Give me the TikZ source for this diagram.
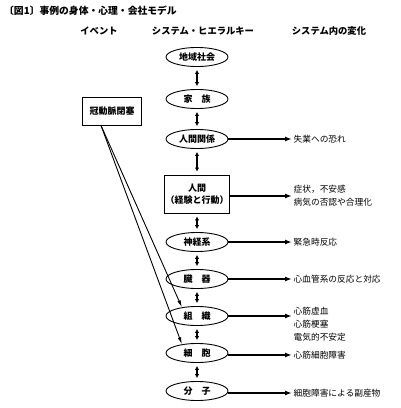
\documentclass[tikz,border=0pt]{standalone}
\usepackage{fontspec}
\setmainfont{Noto Sans CJK JP}
\usetikzlibrary{arrows.meta,positioning,shapes}

\begin{document}
\begin{tikzpicture}[x=1pt,y=-1pt,
  lvl/.style={ellipse,draw,line width=0.9pt,minimum width=62pt,minimum height=19pt,inner sep=0pt,font=\bfseries\fontsize{9}{10}\selectfont},
  sbox/.style={rectangle,draw,line width=0.9pt,minimum width=63pt,minimum height=38pt,inner sep=1pt,align=center,font=\bfseries\fontsize{9}{12}\selectfont},
  chg/.style={anchor=west,inner sep=1.5pt,align=left,font=\fontsize{8.7}{13}\selectfont},
  head/.style={font=\bfseries\fontsize{9.3}{10}\selectfont},
  dbl/.style={{Latex[length=4pt,width=4.5pt]}-{Latex[length=4pt,width=4.5pt]},line width=1.4pt,shorten <=3pt,shorten >=3pt},
  chgline/.style={-{Latex[length=7pt,width=5pt]},line width=1.4pt},
  hit/.style={-{Latex[length=7pt,width=3.5pt]},line width=0.9pt}]
					\useasboundingbox (0,0) rectangle (400,408);

					% Title and headings
					\node[anchor=west,inner sep=0pt,font=\bfseries\fontsize{9.8}{10}\selectfont] (title) at (4,11) {〔図1〕事例の身体・心理・会社モデル};
					\node[head] (hev) at (99,31) {イベント};
					\node[head] (hsys) at (203,31) {システム・ヒエラルキー};
					\node[head] (hchg) at (329,31) {システム内の変化};

					% Hierarchy
					\node[lvl] (h1) at (197,57) {地域社会};
					\node[lvl] (h2) at (197,99) {家\quad 族};
					\node[lvl] (h3) at (197,139) {人間関係};
					\node[sbox] (h4) at (197,194) {人間\\（経験と行動）};
					\node[lvl] (h5) at (197,242) {神経系};
					\node[lvl] (h6) at (197,279) {臓\quad 器};
					\node[lvl] (h7) at (197,316) {組\quad 織};
					\node[lvl] (h8) at (197,353) {細\quad 胞};
					\node[lvl] (h9) at (197,391) {分\quad 子};

					% Event
					\node[sbox,minimum width=59pt,minimum height=28pt] (e) at (112,111) {冠動脈閉塞};

					% Changes
					\node[chg] (r1) at (292,139) {失業への恐れ};
					\node[chg] (r2) at (292,196) {症状，不安感\\病気の否認や合理化};
					\node[chg] (r3) at (292,242) {緊急時反応};
					\node[chg] (r4) at (292,279) {心血管系の反応と対応};
					\node[chg] (r5) at (292,324) {心筋虚血\\心筋梗塞\\電気的不安定};
					\node[chg] (r6) at (292,355) {心筋細胞障害};
					\node[chg] (r7) at (292,393) {細胞障害による副産物};

					% Edges
					\draw[dbl] (h1) -- (h2);
					\draw[dbl] (h2) -- (h3);
					\draw[dbl] (h3) -- (h4);
					\draw[dbl] (h4) -- (h5);
					\draw[dbl] (h5) -- (h6);
					\draw[dbl] (h6) -- (h7);
					\draw[dbl] (h7) -- (h8);
					\draw[dbl] (h8) -- (h9);

					\draw[chgline] (h3) -- (h3 -| r1.west);
					\draw[chgline] (h4.east |- r2.west) -- (r2.west);
					\draw[chgline] (h5) -- (h5 -| r3.west);
					\draw[chgline] (h6) -- (h6 -| r4.west);
					\draw[chgline] (h7) -- (h7 -| r5.west);
					\draw[chgline] (h8.east |- r6.west) -- (r6.west);
					\draw[chgline] (h9.east |- r7.west) -- (r7.west);

					\draw[hit] ([xshift=-11pt]e.south) -- (h7.150);
					\draw[hit] ([xshift=-11pt]e.south) -- (h8.150);
				\end{tikzpicture}
\end{document}
